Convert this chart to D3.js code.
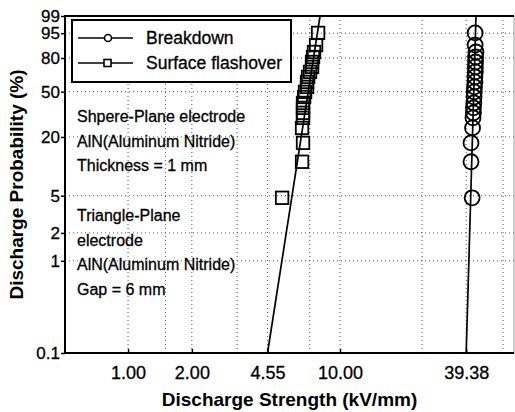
<!DOCTYPE html>
<html>
<head>
<meta charset="utf-8">
<script src="https://cdn.jsdelivr.net/npm/d3@7"></script>
<style>
    body { margin: 0; background: #fff; }
    #chart-area { width: 515px; height: 412px; }
    text { font-family: "Liberation Sans", Arial, sans-serif; fill: #000; }
    .heavy { stroke: #000; stroke-width: 0.3px; }
</style>
</head>
<body>
<div id="chart-area"></div>
<script>

// plotting positions (cumulative %), same ranks for both series
const probabilities = [4.75, 11.3, 17.5, 24.4, 30.2, 33.5, 37.0, 40.7, 45.5, 49.8,
                       54.2, 58.7, 63.3, 67.9, 72.4, 76.7, 80.8, 84.6, 89.2, 95.1];

// breakdown strength (kV/mm)
const breakdown = [42.0, 41.5, 41.5, 42.2, 42.4, 42.6, 42.6, 42.8, 42.9, 43.0,
                   43.1, 43.3, 43.3, 43.5, 43.5, 43.6, 43.6, 43.8, 43.4, 43.4];

// surface flashover strength (kV/mm)
const flashover = [5.33, 6.62, 6.69, 6.62, 6.69, 6.69, 6.69, 6.69, 6.77, 6.84,
                   6.99, 6.99, 7.07, 7.22, 7.38, 7.38, 7.46, 7.54, 7.71, 7.88];

// weibull fit lines, ends at 0.1 % and 99 %
const breakdownFit = [{p: 0.1, v: 39.38}, {p: 99, v: 43.8}];
const flashoverFit = [{p: 0.1, v: 4.55}, {p: 99, v: 8.05}];

// axes
const yTicks = [0.1, 1, 2, 5, 20, 50, 80, 95, 99];
const xTicks = [1.00, 2.00, 4.55, 10.00, 39.38];
const yGrid = [1, 2, 5, 20, 50, 80, 95];
const xGrid = [1, 1.5, 2, 3.27, 4.55, 7.2, 10, 24.4, 39.38, 58.8];

const notes = ["Shpere-Plane electrode", "AlN(Aluminum Nitride)", "Thickness = 1 mm"];
const notes2 = ["Triangle-Plane", "electrode", "AlN(Aluminum Nitride)", "Gap = 6 mm"];


class WeibullPlot {

    constructor(_parentElement) {
        this.parentElement = _parentElement;
        this.initVis();
    }

    initVis() {
        let vis = this;

        vis.margin = {top: 16, right: 1, bottom: 59, left: 65};
        vis.width = 515 - vis.margin.left - vis.margin.right;
        vis.height = 412 - vis.margin.top - vis.margin.bottom;

        vis.svg = d3.select("#" + vis.parentElement).append("svg")
            .attr("width", 515)
            .attr("height", 412)
            .append("g")
            .attr("transform", `translate(${vis.margin.left}, ${vis.margin.top})`);

        // weibull probability paper: ln(-ln(1-F))
        vis.weib = p => Math.log(-Math.log(1 - p / 100));

        vis.yLin = d3.scaleLinear()
            .domain([vis.weib(0.1), vis.weib(99)])
            .range([vis.height, 0]);
        vis.y = p => vis.yLin(vis.weib(p));

        vis.x = d3.scaleLog()
            .domain([0.504, 66.2])
            .range([0, vis.width]);

        // grid
        vis.svg.selectAll(".grid-h")
            .data(yGrid)
            .enter().append("line")
            .attr("class", "grid-h")
            .attr("x1", 0).attr("x2", vis.width)
            .attr("y1", d => vis.y(d)).attr("y2", d => vis.y(d))
            .attr("stroke", "#555")
            .attr("stroke-dasharray", "1,3");

        vis.svg.selectAll(".grid-v")
            .data(xGrid)
            .enter().append("line")
            .attr("class", "grid-v")
            .attr("y1", 0).attr("y2", vis.height)
            .attr("x1", d => vis.x(d)).attr("x2", d => vis.x(d))
            .attr("stroke", "#555")
            .attr("stroke-dasharray", "1,3");

        vis.wrangleData();
    }

    wrangleData() {
        let vis = this;

        vis.bdPoints = probabilities.map((p, i) => ({p: p, v: breakdown[i]}));
        vis.sfPoints = probabilities.map((p, i) => ({p: p, v: flashover[i]}));

        vis.updateVis();
    }

    updateVis() {
        let vis = this;

        let line = d3.line()
            .x(d => vis.x(d.v))
            .y(d => vis.y(d.p));

        // fitted lines
        [breakdownFit, flashoverFit].forEach(f => {
            vis.svg.append("path")
                .datum(f)
                .attr("d", line)
                .attr("fill", "none")
                .attr("stroke", "#000")
                .attr("stroke-width", 1.7);
        });

        // breakdown circles
        vis.svg.selectAll(".bd")
            .data(vis.bdPoints)
            .enter().append("circle")
            .attr("class", "bd")
            .attr("cx", d => vis.x(d.v))
            .attr("cy", d => vis.y(d.p))
            .attr("r", 7.5)
            .attr("fill", "none")
            .attr("stroke", "#000")
            .attr("stroke-width", 1.8);

        // flashover squares
        let s = 12.5;
        vis.svg.selectAll(".sf")
            .data(vis.sfPoints)
            .enter().append("rect")
            .attr("class", "sf")
            .attr("x", d => vis.x(d.v) - s / 2)
            .attr("y", d => vis.y(d.p) - s / 2)
            .attr("width", s)
            .attr("height", s)
            .attr("fill", "none")
            .attr("stroke", "#000")
            .attr("stroke-width", 1.8);

        // legend
        let legend = vis.svg.append("g")
            .attr("transform", "translate(7, 4)");

        legend.append("rect")
            .attr("width", 219)
            .attr("height", 62)
            .attr("fill", "#fff")
            .attr("stroke", "#000")
            .attr("stroke-width", 2);

        [0, 1].forEach(i => {
            let ly = 18 + i * 25;
            legend.append("line")
                .attr("x1", 6).attr("x2", 61)
                .attr("y1", ly).attr("y2", ly)
                .attr("stroke", "#000")
                .attr("stroke-width", 1.3);
            if (i === 0) {
                legend.append("circle")
                    .attr("cx", 36).attr("cy", ly).attr("r", 3.5)
                    .attr("fill", "#fff").attr("stroke", "#000").attr("stroke-width", 1.6);
            } else {
                legend.append("rect")
                    .attr("x", 32).attr("y", ly - 3.5).attr("width", 7).attr("height", 7)
                    .attr("fill", "#fff").attr("stroke", "#000").attr("stroke-width", 1.6);
            }
            legend.append("text")
                .attr("class", "heavy")
                .attr("x", 74).attr("y", ly + 6)
                .style("font-size", "17.5px")
                .text(i === 0 ? "Breakdown" : "Surface flashover");
        });

        // annotation text
        vis.svg.selectAll(".note1")
            .data(notes)
            .enter().append("text")
            .attr("class", "note1 heavy")
            .attr("x", 12)
            .attr("y", (d, i) => 106 + i * 24.5)
            .style("font-size", "16px")
            .text(d => d);

        vis.svg.selectAll(".note2")
            .data(notes2)
            .enter().append("text")
            .attr("class", "note2 heavy")
            .attr("x", 12)
            .attr("y", (d, i) => 205 + i * 24.7)
            .style("font-size", "16px")
            .text(d => d);

        // frame
        vis.svg.append("rect")
            .attr("width", vis.width)
            .attr("height", vis.height)
            .attr("fill", "none")
            .attr("stroke", "#999")
            .attr("stroke-width", 1);

        vis.svg.append("path")
            .attr("d", `M${vis.width},0H0V${vis.height}H${vis.width}`)
            .attr("fill", "none")
            .attr("stroke", "#000")
            .attr("stroke-width", 2);

        // axes
        let yAxis = d3.axisLeft(vis.yLin)
            .tickValues(yTicks.map(vis.weib))
            .tickFormat((d, i) => yTicks[i])
            .tickSizeInner(4)
            .tickSizeOuter(0)
            .tickPadding(1);

        vis.svg.append("g")
            .attr("class", "y-axis")
            .call(yAxis)
            .call(g => g.select(".domain").remove())
            .selectAll("text")
            .attr("class", "heavy")
            .style("font-size", "17px");

        let xAxis = d3.axisBottom(vis.x)
            .tickValues(xTicks)
            .tickFormat(d3.format(".2f"))
            .tickSizeInner(-4)
            .tickSizeOuter(0)
            .tickPadding(13);

        vis.svg.append("g")
            .attr("class", "x-axis")
            .attr("transform", `translate(0, ${vis.height})`)
            .call(xAxis)
            .call(g => g.select(".domain").remove())
            .selectAll("text")
            .attr("class", "heavy")
            .style("font-size", "18px");

        vis.svg.selectAll(".tick line").attr("stroke-width", 1.5);

        // axis titles
        vis.svg.append("text")
            .attr("x", vis.width / 2)
            .attr("y", vis.height + 53)
            .attr("text-anchor", "middle")
            .style("font-size", "19px")
            .style("font-weight", "bold")
            .text("Discharge Strength (kV/mm)");

        vis.svg.append("text")
            .attr("transform", `translate(-42, ${vis.height / 2}) rotate(-90)`)
            .attr("text-anchor", "middle")
            .style("font-size", "19px")
            .style("font-weight", "bold")
            .text("Discharge Probability (%)");
    }
}

let plot = new WeibullPlot("chart-area");

</script>
</body>
</html>
